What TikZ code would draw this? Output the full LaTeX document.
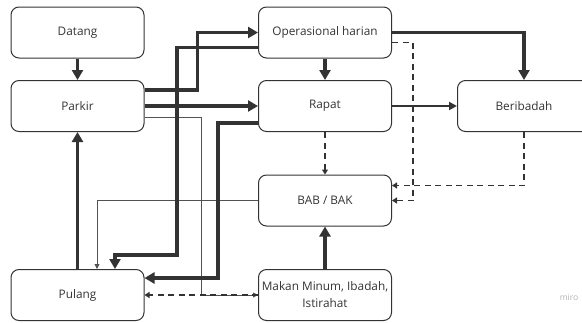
\documentclass[tikz,border=0pt]{standalone}
\usepackage{fontspec}
\setmainfont{Open Sans}
\usetikzlibrary{arrows.meta}
\definecolor{ln}{HTML}{333333}
\definecolor{tx}{HTML}{333333}
\tikzset{
  box/.style={draw=ln, line width=1pt, rounded corners=8pt, minimum width=133pt, minimum height=51pt, inner sep=0pt, text=tx, font=\fontsize{11.8}{17}\selectfont, align=center},
  thickarrow/.style={draw=ln, line width=3.2pt, -{Triangle[length=10pt,width=11pt]}},
  medarrow/.style={draw=ln, line width=2pt, -{Triangle[length=8pt,width=8pt]}},
  thinarrow/.style={draw=ln!85, line width=0.9pt, -{Triangle[length=5pt,width=5pt]}},
  dasharrow/.style={draw=ln, line width=1.5pt, dash pattern=on 6pt off 4.5pt, -{Triangle[length=5pt,width=6pt]}},
}
\begin{document}
\begin{tikzpicture}[x=1pt,y=-1pt]
\useasboundingbox (0,0) rectangle (582,322);
\node[box] (datang) at (77.5,32.5) {Datang};
\node[box] (parkir) at (77.5,106) {Parkir};
\node[box] (op) at (325,32.5) {Operasional harian};
\node[box] (rapat) at (325,106) {Rapat};
\node[box] (ber) at (524,106) {Beribadah};
\node[box] (bab) at (325,200.5) {BAB / BAK};
\node[box] (makan) at (325,295) {Makan Minum, Ibadah,\\Istirahat};
\node[box] (pulang) at (77.5,295) {Pulang};
\node[text=black!30, font=\fontsize{8.5}{9}\selectfont] (miro) at (569,297) {miro};

% thin connectors
\draw[thinarrow] ([yshift=-11pt]parkir.east) -- ++(57,0) |- (makan.west);
\draw[thinarrow] (bab.west) -| ([xshift=19.5pt]pulang.north);
% dashed
\draw[dasharrow] (makan.west) -- (pulang.east);
\draw[dasharrow] ([yshift=-10pt]op.east) -- ++(21,0) |- (bab.east);
\draw[dasharrow] (rapat.south) -- (bab.north);
\draw[dasharrow] (ber.south) |- ([yshift=15pt]bab.east);
% thick
\draw[thickarrow] (datang.south) -- (parkir.north);
\draw[thickarrow] ([yshift=16pt]parkir.east) -- ++(53,0) |- (op.west);
\draw[thickarrow] (parkir.east) -- (rapat.west);
\draw[thickarrow] ([yshift=-15pt]op.west) -| (177,255) -| ([xshift=37.5pt]pulang.north);
\draw[thickarrow] ([yshift=-17pt]rapat.west) -| (218,278) -- ([yshift=17pt]pulang.east);
\draw[thickarrow] (pulang.north) -- (parkir.south);
\draw[thickarrow] (op.south) -- (rapat.north);
\draw[thickarrow] (op.east) -| (ber.north);
\draw[medarrow] (rapat.east) -- (ber.west);
\draw[thickarrow] (makan.north) -- (bab.south);
\end{tikzpicture}
\end{document}
